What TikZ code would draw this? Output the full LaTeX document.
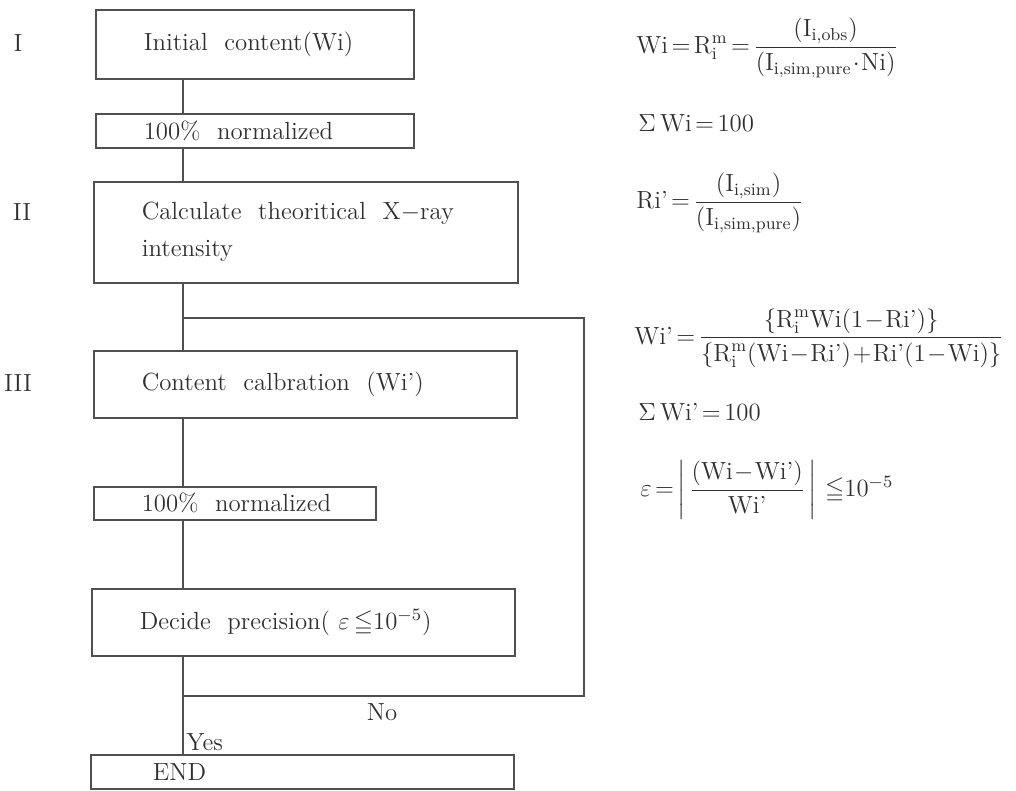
\RequirePackage{fix-cm}
\documentclass[tikz,border=0pt]{standalone}
\usepackage{amsmath}
\usepackage{amssymb}
\usepackage{fontspec}

\newcommand{\Rim}{\text{R}_{\text{i}}^{\text{m}}}
\definecolor{ink}{HTML}{303030}
\definecolor{rule}{HTML}{505050}

\tikzset{
  box/.style={draw=rule, line width=0.8pt, anchor=north west, inner xsep=24pt, inner ysep=0pt, align=left},
  link/.style={draw=rule, line width=0.8pt},
  formula/.style={anchor=west, inner sep=0pt, execute at begin node={\medmuskip=1mu\thickmuskip=2.5mu}},
}

\begin{document}
\begin{tikzpicture}[x=0.5pt, y=-0.5pt, every node/.style={text=ink, font=\fontsize{12.4}{18.5}\selectfont}]
  \useasboundingbox (0,0) rectangle (1016,791);

  % Stage labels
  \node (r1) at (18,43) {I};
  \node (r2) at (22,212) {II};
  \node (r3) at (18,383) {III};

  % Flow chart
  \node[box, text width=111pt, minimum height=34.5pt] (init) at (95,9) {Initial~ content(Wi)};
  \node[box, text width=111pt, minimum height=17pt] (norm1) at (95,113) {\mbox{100\%~ normalized}};
  \node[box, text width=164pt, minimum height=50.5pt] (calc) at (93,181) {Calculate~ theoritical~ X$-$ray\\intensity};
  \node[box, text width=163.5pt, minimum height=33.5pt] (calib) at (93,350) {Content~ calbration~ (Wi')};
  \node[box, text width=93pt, minimum height=16.5pt] (norm2) at (93,486) {\mbox{100\%~ normalized}};
  \node[box, text width=163.5pt, minimum height=33.5pt] (decide) at (91,588) {Decide~ precision( $\varepsilon\,{\leqq}10^{-5}$)};
  \node[box, inner xsep=31pt, text width=149.5pt, minimum height=17pt] (end) at (90,754) {END};

  % Connectors
  \coordinate (trunk) at (183,0);
  \draw[link] (init.south -| trunk) -- (norm1.north -| trunk);
  \draw[link] (norm1.south -| trunk) -- (calc.north -| trunk);
  \draw[link] (calc.south -| trunk) -- (calib.north -| trunk);
  \draw[link] (calib.south -| trunk) -- (norm2.north -| trunk);
  \draw[link] (norm2.south -| trunk) -- (decide.north -| trunk);
  \draw[link] (decide.south -| trunk) -- (end.north -| trunk);

  % Iteration loop
  \coordinate (looptop) at (183,318);
  \coordinate (loopbot) at (183,696);
  \coordinate (ret) at (584,0);
  \draw[link] (looptop) -- (looptop -| ret) -- (loopbot -| ret) -- (loopbot);
  \node (no) at (382,712) {No};
  \node[anchor=west, inner sep=0pt] (yes) at (186,742) {Yes};

  % Equations
  \node[formula] (f1) at (636,48) {$\text{Wi}=\Rim=\dfrac{(\text{I}_{\text{i,obs}})}{(\text{I}_{\text{i,sim,pure}}\cdot\text{Ni})}$};
  \node[formula] (f2) at (638,123) {$\Sigma\,\text{Wi}=100$};
  \node[formula] (f3) at (636,203) {$\text{Ri'}=\dfrac{(\text{I}_{\text{i,sim}})}{(\text{I}_{\text{i,sim,pure}})}$};
  \node[formula] (f4) at (634,338) {$\text{Wi'}=\dfrac{\{\Rim\text{Wi}(1-\text{Ri'})\}}{\{\Rim(\text{Wi}-\text{Ri'})+\text{Ri'}(1-\text{Wi})\}}$};
  \node[formula] (f5) at (638,412) {$\Sigma\,\text{Wi'}=100$};
  \node[formula] (f6) at (640,490) {$\varepsilon=\left|\;\dfrac{(\text{Wi}-\text{Wi'})}{\text{Wi'}}\;\right|\,{\leqq}10^{-5}$};
\end{tikzpicture}
\end{document}
